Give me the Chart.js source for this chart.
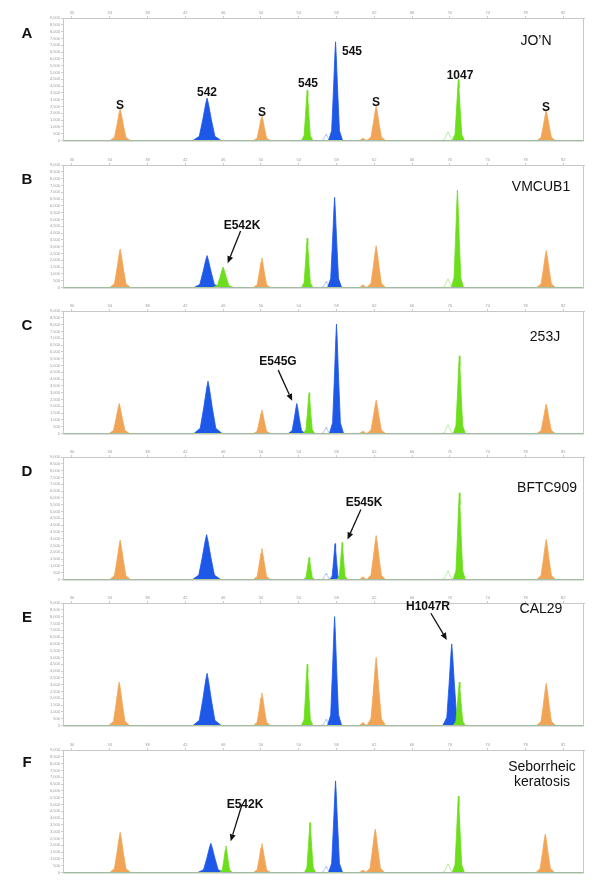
<!DOCTYPE html>
<html>
<head>
<meta charset="utf-8">
<script src="https://cdn.jsdelivr.net/npm/chart.js@4.4.0/dist/chart.umd.min.js"></script>
<style>
  body { margin: 0; background: #fff; }
  #page { position: relative; width: 600px; height: 896px; overflow: hidden; font-family: Arial, "Liberation Sans", sans-serif; }
  canvas { position: absolute; left: 0; }
  .txt { position: absolute; transform: translate(-50%, -50%); white-space: nowrap; color: #111; line-height: 1; }
  .letter { font-size: 15px; font-weight: bold; }
  .peak { font-size: 12px; font-weight: bold; }
  .name { font-size: 14px; text-align: center; line-height: 15px; }
</style>
</head>
<body>
<div id="page"></div>
<script>
// ---- axis ----
const X_MIN = 29.05, X_MAX = 84.2;
const X_TICKS = [30, 34, 38, 42, 46, 50, 54, 58, 62, 66, 70, 74, 78, 82];
const Y_MAX = 9000, Y_STEP = 500;

// ---- peaks: [size, height, half width] ----
const orangeA = [[35.1, 2330, 1.1], [50.1, 1870, 0.9], [60.8, 180, 0.6], [62.2, 2520, 1.0], [80.2, 2210, 1.0]];
const blueA   = [[44.3, 3120, 1.5], [57.9, 7250, 0.75]];
const greenA  = [[54.9, 3700, 0.6], [70.9, 4490, 0.65]];

const orangeB = [[35.1, 2830, 1.1], [50.1, 2180, 0.9], [60.8, 200, 0.6], [62.2, 3070, 1.0], [80.2, 2710, 1.0]];
const blueB   = [[44.3, 2350, 1.4], [57.8, 6620, 0.75]];
const greenB  = [[46.0, 1510, 1.1], [54.9, 3620, 0.6], [70.8, 7150, 0.65]];

const orangeC = [[35.0, 2210, 1.1], [50.1, 1730, 0.9], [60.8, 180, 0.6], [62.2, 2450, 1.0], [80.2, 2160, 1.0]];
const blueC   = [[44.4, 3840, 1.5], [53.8, 2210, 0.9], [58.0, 8040, 0.75]];
const greenC  = [[55.1, 3000, 0.6], [71.0, 5710, 0.65]];

const orangeD = [[35.1, 2900, 1.1], [50.1, 2280, 0.9], [60.8, 200, 0.6], [62.2, 3230, 1.0], [80.2, 2940, 1.0]];
const blueD   = [[44.25, 3300, 1.5], [57.85, 2640, 0.55]];
const greenD  = [[55.1, 1630, 0.6], [58.6, 2730, 0.55], [71.0, 6370, 0.65]];

const orangeE = [[35.0, 3190, 1.1], [50.1, 2400, 0.9], [60.8, 220, 0.6], [62.2, 5000, 1.0], [80.2, 3100, 1.0]];
const blueE   = [[44.3, 3840, 1.5], [57.8, 8000, 0.75], [70.2, 6000, 0.95]];
const greenE  = [[54.9, 4500, 0.6], [71.0, 3200, 0.65]];

const orangeF = [[35.1, 2950, 1.1], [50.1, 2130, 0.9], [60.8, 180, 0.6], [62.1, 3190, 1.0], [80.1, 2830, 1.0]];
const blueF   = [[44.7, 2150, 1.4], [57.9, 6730, 0.75]];
const greenF  = [[46.3, 1960, 0.7], [55.2, 3680, 0.6], [70.9, 5620, 0.65]];

// faint unfilled traces (same for every sample)
const faintBlue  = [[56.9, 450, 0.6]];
const faintGreen = [[69.8, 650, 0.7]];

// ---- arrows: [fromX, fromY, toX, toY] in data units ----
const arrowsB = [[47.85, 4160, 46.48, 1790]];
const arrowsC = [[51.83, 4660, 53.31, 2410]];
const arrowsD = [[60.58, 5140, 59.17, 2950]];
const arrowsE = [[67.99, 8250, 69.68, 6290]];
const arrowsF = [[48.0, 5000, 46.8, 2300]];

// outline of one peak (relative offsets and height fractions)
const SHAPE_DX = [-1, -0.55, -0.3, -0.1, 0, 0.1, 0.3, 0.55, 1];
const SHAPE_DY = [0, 0.1, 0.5, 0.86, 1, 0.86, 0.5, 0.1, 0];

const ORANGE = 'rgb(242,164,86)';
const BLUE = 'rgb(30,88,232)';
const GREEN = 'rgb(108,222,28)';

const panels = [
    { top: 18,  orange: orangeA, blue: blueA, green: greenA, arrows: [] },
    { top: 165, orange: orangeB, blue: blueB, green: greenB, arrows: arrowsB },
    { top: 311, orange: orangeC, blue: blueC, green: greenC, arrows: arrowsC },
    { top: 457, orange: orangeD, blue: blueD, green: greenD, arrows: arrowsD },
    { top: 603, orange: orangeE, blue: blueE, green: greenE, arrows: arrowsE },
    { top: 750, orange: orangeF, blue: blueF, green: greenF, arrows: arrowsF }
];

// text positions (page pixels)
const texts = [
    ['letter', 'A', 27, 32], ['letter', 'B', 27, 178], ['letter', 'C', 27, 324],
    ['letter', 'D', 27, 470], ['letter', 'E', 27, 616], ['letter', 'F', 27, 761],
    ['name', 'JO\u2019N', 536, 40], ['name', 'VMCUB1', 541, 186], ['name', '253J', 545, 336],
    ['name', 'BFTC909', 547, 487], ['name', 'CAL29', 541, 608], ['name', 'Seborrheic<br>keratosis', 542, 774],
    ['peak', 'S', 120, 105], ['peak', '542', 207, 92], ['peak', 'S', 262, 112], ['peak', '545', 308, 83],
    ['peak', '545', 352, 51], ['peak', 'S', 376, 102], ['peak', '1047', 460, 75], ['peak', 'S', 546, 107],
    ['peak', 'E542K', 242, 225], ['peak', 'E545G', 278, 361], ['peak', 'E545K', 364, 502],
    ['peak', 'H1047R', 428, 606], ['peak', 'E542K', 245, 804]
];

function trace(peaks) {
    const pts = [{ x: X_MIN, y: 0 }];
    peaks.slice().sort((a, b) => a[0] - b[0]).forEach(([c, h, w]) => {
        SHAPE_DX.forEach((dx, i) => pts.push({ x: c + dx * w, y: SHAPE_DY[i] * h }));
    });
    pts.push({ x: X_MAX, y: 0 });
    return pts;
}

const framePlugin = {
    id: 'frame',
    afterDatasetsDraw(chart, args, opts) {
        const { ctx, chartArea: a, scales } = chart;
        ctx.save();
        ctx.strokeStyle = '#c8c8c8';
        ctx.lineWidth = 1;
        ctx.strokeRect(a.left + 0.5, a.top + 0.5, a.right - a.left - 1, a.bottom - a.top);
        // arrows
        ctx.strokeStyle = '#111';
        ctx.fillStyle = '#111';
        ctx.lineWidth = 1.3;
        (opts.arrows || []).forEach(([x1, y1, x2, y2]) => {
            const px1 = scales.x.getPixelForValue(x1), py1 = scales.y.getPixelForValue(y1);
            const px2 = scales.x.getPixelForValue(x2), py2 = scales.y.getPixelForValue(y2);
            const ang = Math.atan2(py2 - py1, px2 - px1);
            const hl = 7, hw = 3;
            const bx = px2 - hl * Math.cos(ang), by = py2 - hl * Math.sin(ang);
            ctx.beginPath();
            ctx.moveTo(px1, py1);
            ctx.lineTo(bx, by);
            ctx.stroke();
            ctx.beginPath();
            ctx.moveTo(px2, py2);
            ctx.lineTo(bx + hw * Math.sin(ang), by - hw * Math.cos(ang));
            ctx.lineTo(bx - hw * Math.sin(ang), by + hw * Math.cos(ang));
            ctx.closePath();
            ctx.fill();
        });
        ctx.restore();
    }
};

const page = document.getElementById('page');

panels.forEach(p => {
    const canvas = document.createElement('canvas');
    canvas.width = 600;
    canvas.height = 136;
    canvas.style.top = (p.top - 10) + 'px';
    page.appendChild(canvas);

    const ds = (label, color, peaks, order, fill) => ({
        label, data: trace(peaks), order,
        borderColor: color, backgroundColor: color, borderWidth: fill ? 0.8 : 0.7,
        fill: fill ? 'origin' : false, pointRadius: 0, tension: 0
    });

    new Chart(canvas, {
        type: 'line',
        data: {
            datasets: [
                ds('faint blue', 'rgba(120,150,240,0.8)', faintBlue, 5, false),
                ds('faint green', 'rgba(150,230,110,0.9)', faintGreen, 4, false),
                ds('orange', ORANGE, p.orange, 3, true),
                ds('blue', BLUE, p.blue, 2, true),
                ds('green', GREEN, p.green, 1, true)
            ]
        },
        options: {
            responsive: false, animation: false, devicePixelRatio: 1,
            layout: { padding: { left: 40, right: 16, top: 0, bottom: 0 } },
            plugins: { legend: { display: false }, tooltip: { enabled: false }, frame: { arrows: p.arrows } },
            scales: {
                x: {
                    type: 'linear', position: 'top', min: X_MIN, max: X_MAX,
                    afterBuildTicks: s => { s.ticks = X_TICKS.map(v => ({ value: v })); },
                    afterFit: s => { s.height = 10; },
                    grid: { drawOnChartArea: false, tickLength: 2, color: '#ccc' },
                    border: { color: '#c8c8c8' },
                    ticks: { font: { size: 4 }, color: '#999', padding: 1, maxRotation: 0 }
                },
                y: {
                    min: 0, max: Y_MAX,
                    afterFit: s => { s.width = 23; },
                    grid: { drawOnChartArea: false, tickLength: 2, color: '#ccc' },
                    border: { color: '#c8c8c8' },
                    ticks: { stepSize: Y_STEP, autoSkip: false, font: { size: 4 }, color: '#999', padding: 1 }
                }
            }
        },
        plugins: [framePlugin]
    });
});

texts.forEach(([cls, t, x, y]) => {
    const d = document.createElement('div');
    d.className = 'txt ' + cls;
    d.innerHTML = t;
    d.style.left = x + 'px';
    d.style.top = y + 'px';
    page.appendChild(d);
});
</script>
</body>
</html>
